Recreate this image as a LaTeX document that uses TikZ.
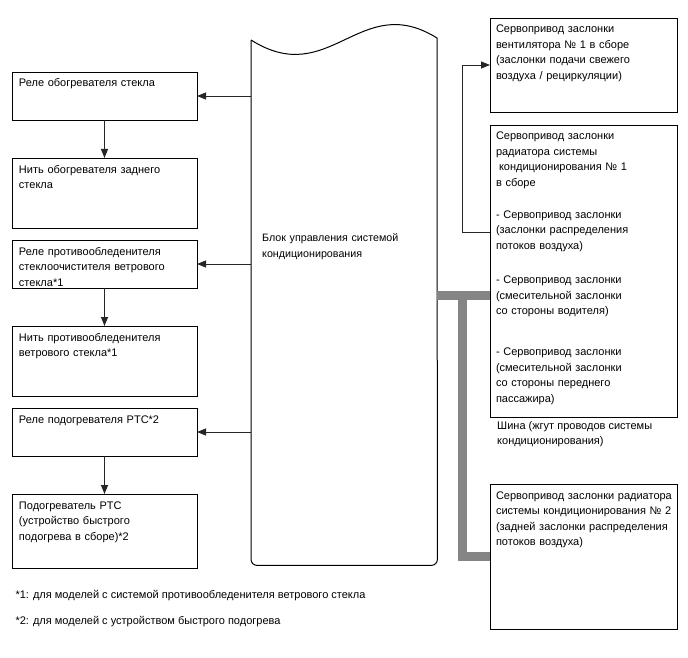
\documentclass[tikz,border=0pt]{standalone}
\usepackage{fontspec}
\setmainfont{Liberation Sans}
\usetikzlibrary{arrows.meta, positioning}

\begin{document}
\begin{tikzpicture}[
  x=1pt, y=-1pt,
  node distance=38pt,
  txt/.style={font=\fontsize{11}{15.5}\selectfont},
  box/.style={draw, line width=0.95pt, outer sep=0pt, anchor=north west, align=left, txt,
    inner xsep=7pt, inner ysep=6pt, text height=9pt, text depth=#1},
  lbox/.style={box=#1, text width=171pt},
  rbox/.style={box=#1, text width=175pt, inner xsep=6pt},
  arrow/.style={-{Triangle[length=9pt,width=7pt]}, line width=0.8pt, black!85},
  bus/.style={line width=9pt, black!48, line join=miter},
  eculine/.style={line width=1pt}
]
\useasboundingbox (0,0) rectangle (688,658);

% left column
\node[lbox=27pt] (relay1) at (12,72) {Реле обогревателя стекла};
\node[lbox=49pt, below=38pt of relay1] (heat1) {Нить обогревателя заднего\\стекла};
\node[lbox=27pt, below=12pt of heat1] (relay2) {Реле противообледенителя\\стеклоочистителя ветрового\\стекла*1};
\node[lbox=49pt, below=38pt of relay2] (heat2) {Нить противообледенителя\\ветрового стекла*1};
\node[lbox=27pt, below=12pt of heat2] (relay3) {Реле подогревателя PTC*2};
\node[lbox=53pt, below=38pt of relay3] (heat3) {Подогреватель PTC\\(устройство быстрого\\подогрева в сборе)*2};

% control unit
\node[anchor=north west, align=left, font=\fontsize{10.7}{16}\selectfont, text width=164pt,
  inner xsep=11pt, inner ysep=6pt, text height=195pt, text depth=318pt] (ecu) at (251,40)
  {Блок управления системой\\кондиционирования};
\draw[eculine] (ecu.north west) .. controls (330,90) and (360,-10) .. (437,38)
  [rounded corners=6pt] -- (ecu.south east) -- (ecu.south west) -- (ecu.north west);

% right column
\node[rbox=73pt] (servo1) at (490,18) {Сервопривод заслонки\\вентилятора № 1 в сборе\\(заслонки подачи свежего\\воздуха / рециркуляции)};
\node[rbox=271pt] (servo2) at (490,125) {Сервопривод заслонки\\радиатора системы\\\hspace*{3pt}кондиционирования № 1\\в сборе\\[16pt]
  - Сервопривод заслонки\\(заслонки распределения\\потоков воздуха)\\[19.5pt]
  - Сервопривод заслонки\\(смесительной заслонки\\со стороны водителя)\\[25.5pt]
  - Сервопривод заслонки\\(смесительной заслонки\\со стороны переднего\\пассажира)};
\node[rbox=124pt] (servo3) at (490,484) {\mbox{Сервопривод заслонки радиатора}\\\mbox{системы кондиционирования № 2}\\\mbox{(задней заслонки распределения}\\потоков воздуха)};
\node[anchor=north west, align=left, txt, inner sep=0pt] (buslabel) at (497,421) {Шина (жгут проводов системы\\кондиционирования)};

% connectors
\draw[arrow] (ecu.west |- relay1) -- (relay1);
\draw[arrow] (ecu.west |- relay2) -- (relay2);
\draw[arrow] (ecu.west |- relay3) -- (relay3);
\draw[arrow] (relay1) -- (heat1);
\draw[arrow] (relay2) -- (heat2);
\draw[arrow] (relay3) -- (heat3);
\draw[arrow] ([yshift=39pt]servo2.west) -- ++(-28,0) |- (servo1);

% bus
\coordinate (busT) at ([yshift=-24pt]servo2.west);
\draw[bus] (ecu.east |- busT) -- (busT);
\draw[bus] ([xshift=-28pt]busT) |- (servo3);

% notes
\node[anchor=west, txt] (note1) at (12,596) {*1: для моделей с системой противообледенителя ветрового стекла};
\node[anchor=west, txt] (note2) at (12,622) {*2: для моделей с устройством быстрого подогрева};
\end{tikzpicture}
\end{document}
